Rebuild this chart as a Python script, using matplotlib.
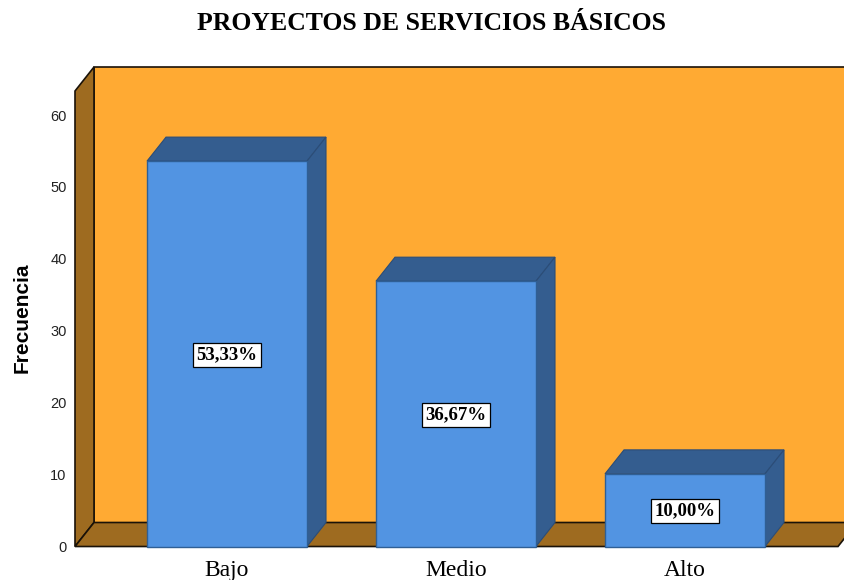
import matplotlib
matplotlib.use('Agg')
import matplotlib.pyplot as plt
from matplotlib.patches import Polygon

categories = ['Bajo', 'Medio', 'Alto']
values = [53.6, 36.9, 10.1]
labels = ['53,33%', '36,67%', '10,00%']
yticks = [0, 10, 20, 30, 40, 50, 60]

W, H = 845, 580
fig = plt.figure(figsize=(W / 100, H / 100), dpi=100)

# axes: front plane of the 3D box, pixel edges
left, right, bottom, top = 75, 838, 546.5, 91
ax = fig.add_axes([left / W, 1 - bottom / H, (right - left) / W, (bottom - top) / H])
px_y = 7.19  # px per unit
px_x = 229.0
ax.set_ylim(0, (bottom - top) / px_y)
ax.set_xlim((left - 227) / px_x, (right - 227) / px_x)

dx = 19 / px_x
dy = 24 / px_y
x0, x1 = ax.get_xlim()
y0, y1 = ax.get_ylim()

wall = '#FFAA33'
shade = '#9E6B20'
bar_front = '#5294E2'
bar_dark = '#345D8F'
bw = 160 / px_x

def poly(pts, fc, ec='#1a1208', lw=1.2, z=1):
    ax.add_patch(Polygon(pts, closed=True, facecolor=fc, edgecolor=ec, linewidth=lw,
                         zorder=z, clip_on=False, joinstyle='miter'))

# walls and floor
poly([(x0 + dx, dy), (x1 + dx, dy), (x1 + dx, y1 + dy), (x0 + dx, y1 + dy)], wall)
poly([(x0, 0), (x0 + dx, dy), (x0 + dx, y1 + dy), (x0, y1)], shade)
poly([(x0, 0), (x1, 0), (x1 + dx, dy), (x0 + dx, dy)], shade)

# bars
for i, v in enumerate(values):
    l, r = i - bw / 2, i + bw / 2
    poly([(l, v), (r, v), (r + dx, v + dy), (l + dx, v + dy)], bar_dark, ec='#2B4D78', lw=0.8, z=3)
    poly([(r, 0), (r + dx, dy), (r + dx, v + dy), (r, v)], bar_dark, ec='#2B4D78', lw=0.8, z=3)
    poly([(l, 0), (r, 0), (r, v), (l, v)], bar_front, ec='#2F5F95', lw=1.0, z=4)
    ax.annotate(labels[i], (i, v / 2), xytext=(0, -1), textcoords='offset pixels',
                ha='center', va='center', zorder=6,
                family='Liberation Serif', fontweight='bold', fontsize=13.5,
                bbox=dict(boxstyle='square,pad=0.2', facecolor='white', edgecolor='black', linewidth=0.9))

for s in ax.spines.values():
    s.set_visible(False)
ax.patch.set_visible(False)
ax.set_yticks(yticks)
ax.set_xticks(range(len(categories)))
ax.set_xticklabels(categories, family='Liberation Serif', fontsize=17)
ax.tick_params(axis='x', length=0, pad=9.5)
ax.tick_params(axis='y', length=0, labelsize=10.5, pad=6, labelcolor='#222222')
for lab in ax.get_yticklabels():
    lab.set_family('Liberation Sans')

fig.text(22 / W, 1 - 318 / H, 'Frecuencia', rotation=90, ha='center', va='center',
         family='Liberation Sans', fontweight='bold', fontsize=15)
fig.text(432 / W, 1 - 23.5 / H, 'PROYECTOS DE SERVICIOS BÁSICOS', ha='center', va='center',
         family='Liberation Serif', fontweight='bold', fontsize=18.5)

fig.savefig('out.png', dpi=100)
